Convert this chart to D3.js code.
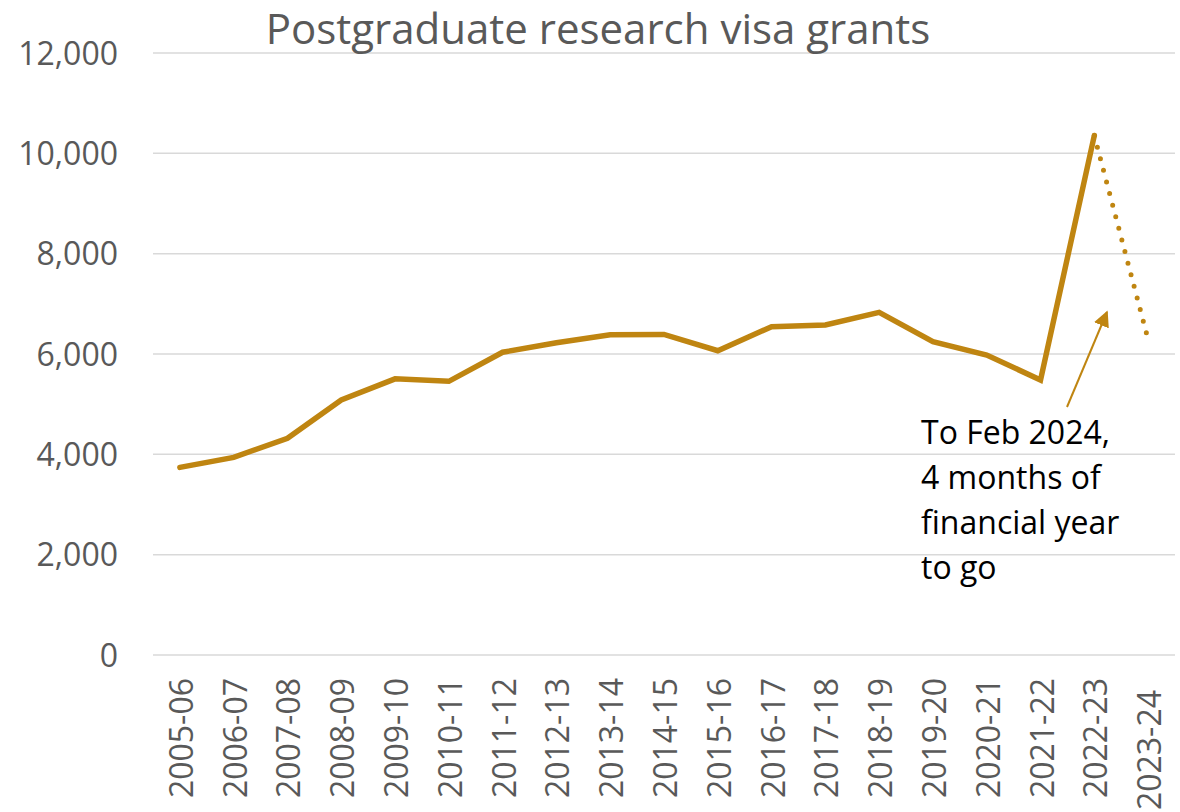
<!DOCTYPE html>
<html>
<head>
<meta charset="utf-8">
<script src="https://cdn.jsdelivr.net/npm/d3@7"></script>
<style>
  body { margin: 0; background: #fff; }
  svg { display: block; font-family: "Open Sans", sans-serif; }
</style>
</head>
<body>
<div id="chart"></div>
<script>
// financial years and visa grants
const years = ["2005-06", "2006-07", "2007-08", "2008-09", "2009-10", "2010-11", "2011-12",
  "2012-13", "2013-14", "2014-15", "2015-16", "2016-17", "2017-18", "2018-19",
  "2019-20", "2020-21", "2021-22", "2022-23", "2023-24"];
const grants = [3740, 3940, 4320, 5085, 5505, 5455, 6035, 6225, 6385, 6390, 6065,
  6545, 6580, 6830, 6245, 5980, 5480, 10355, 6290];
const yTicks = [0, 2000, 4000, 6000, 8000, 10000, 12000];
const noteLines = ["To Feb 2024,", "4 months of", "financial year", "to go"];

const width = 1180, height = 812;
const margin = {top: 53, right: 5, bottom: 157, left: 153};
const lineColor = "#BF8511";

const svg = d3.select("#chart").append("svg")
  .attr("width", width)
  .attr("height", height);

const x = d3.scalePoint()
  .domain(years)
  .range([margin.left, width - margin.right])
  .padding(0.5);

const y = d3.scaleLinear()
  .domain([0, 12000])
  .range([height - margin.bottom, margin.top]);

// gridlines
svg.append("g")
  .selectAll("line")
  .data(yTicks)
  .join("line")
  .attr("x1", margin.left)
  .attr("x2", width - margin.right)
  .attr("y1", d => y(d))
  .attr("y2", d => y(d))
  .attr("stroke", "#d9d9d9")
  .attr("stroke-width", 1.5);

// y axis labels
svg.append("g")
  .selectAll("text")
  .data(yTicks)
  .join("text")
  .attr("x", 118)
  .attr("y", d => y(d))
  .attr("dy", "0.36em")
  .attr("text-anchor", "end")
  .style("font-size", "32px")
  .style("fill", "#595959")
  .text(d => d3.format(",")(d));

// x axis labels, rotated
svg.append("g")
  .selectAll("text")
  .data(years)
  .join("text")
  .attr("transform", (d, i) => `translate(${x(d) + 13},${i === years.length - 1 ? 690 : 678}) rotate(-90)`)
  .attr("text-anchor", "end")
  .style("font-size", "32px")
  .style("fill", "#595959")
  .text(d => d);

// title
svg.append("text")
  .attr("x", 598)
  .attr("y", 44)
  .attr("text-anchor", "middle")
  .style("font-size", "42px")
  .style("fill", "#595959")
  .text("Postgraduate research visa grants");

const pts = years.map((d, i) => ({year: d, value: grants[i]}));
const line = d3.line()
  .x(d => x(d.year))
  .y(d => y(d.value));

// full years - solid
svg.append("path")
  .datum(pts.slice(0, pts.length - 1))
  .attr("d", line)
  .attr("fill", "none")
  .attr("stroke", lineColor)
  .attr("stroke-width", 5.5)
  .attr("stroke-linecap", "round");

// part year - dotted
svg.append("path")
  .datum(pts.slice(pts.length - 2))
  .attr("d", line)
  .attr("fill", "none")
  .attr("stroke", lineColor)
  .attr("stroke-width", 5)
  .attr("stroke-linecap", "round")
  .attr("stroke-dasharray", "0,12");

// annotation arrow
svg.append("defs").append("marker")
  .attr("id", "head")
  .attr("viewBox", "0 0 10 10")
  .attr("refX", 9)
  .attr("refY", 5)
  .attr("markerWidth", 8)
  .attr("markerHeight", 8)
  .attr("markerUnits", "strokeWidth")
  .attr("orient", "auto")
  .append("path")
  .attr("d", "M0,0 L10,5 L0,10 Z")
  .attr("fill", lineColor);

svg.append("line")
  .attr("x1", 1067)
  .attr("y1", 407)
  .attr("x2", 1107)
  .attr("y2", 312)
  .attr("stroke", lineColor)
  .attr("stroke-width", 2)
  .attr("marker-end", "url(#head)");

// annotation text
svg.append("g")
  .selectAll("text")
  .data(noteLines)
  .join("text")
  .attr("x", 921)
  .attr("y", (d, i) => 444 + i * 45)
  .style("font-size", "32px")
  .style("fill", "#000")
  .text(d => d);
</script>
</body>
</html>
